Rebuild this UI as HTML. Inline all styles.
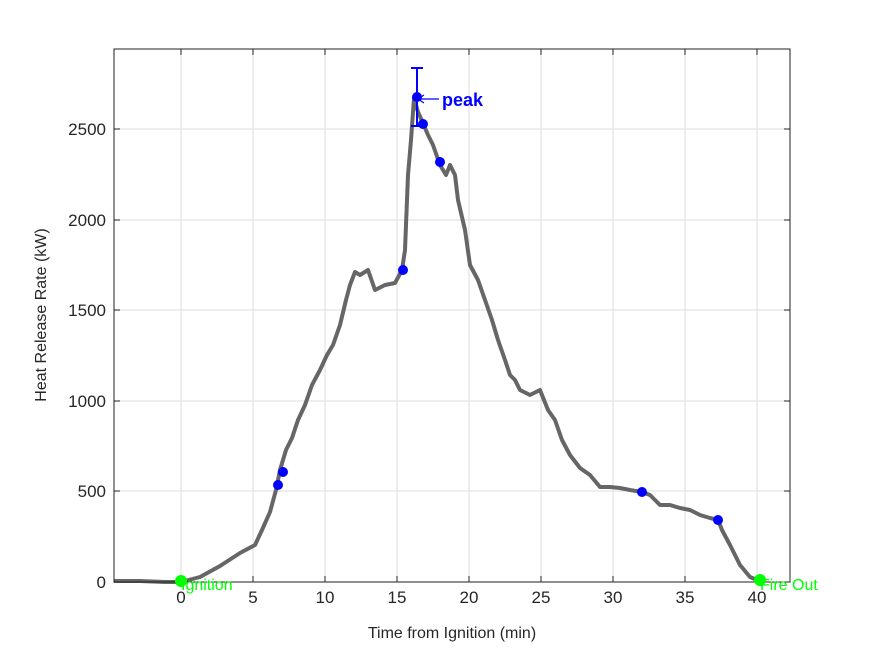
<!DOCTYPE html>
<html><head><style>body{margin:0;background:#fff}</style></head><body>
<svg width="875" height="656" xmlns="http://www.w3.org/2000/svg" font-family="Liberation Sans, sans-serif">
<rect width="875" height="656" fill="#fff"/>
<g stroke="#dedede" stroke-width="1">
<line x1="181" y1="49" x2="181" y2="582"/><line x1="253" y1="49" x2="253" y2="582"/><line x1="325" y1="49" x2="325" y2="582"/><line x1="397" y1="49" x2="397" y2="582"/><line x1="469" y1="49" x2="469" y2="582"/><line x1="541" y1="49" x2="541" y2="582"/><line x1="613" y1="49" x2="613" y2="582"/><line x1="685" y1="49" x2="685" y2="582"/><line x1="757" y1="49" x2="757" y2="582"/>
<line x1="114" y1="491" x2="790" y2="491"/><line x1="114" y1="401" x2="790" y2="401"/><line x1="114" y1="310" x2="790" y2="310"/><line x1="114" y1="220" x2="790" y2="220"/><line x1="114" y1="129" x2="790" y2="129"/>
</g>
<polyline fill="none" stroke="#666" stroke-width="4" stroke-linejoin="round" points="114,581 140,581 165,582 181,582 200,577 220,566 240,553 255,545 262,530 270,512 276,490 280,470 286,450 292,438 298,420 305,405 312,385 320,370 327,355 333,345 340,325 346,300 350,285 355,272 360,275 368,270 375,290 385,285 395,283 402,270 405,250 408,175 411,140 414,98 418,112 423,123 428,135 433,145 440,165 446,175 450,165 455,175 458,200 465,230 470,265 478,280 485,300 492,320 498,340 505,360 510,375 515,380 520,390 530,395 540,390 548,410 555,420 562,440 570,455 580,468 590,475 600,487 610,487 620,488 630,490 642,492 650,495 660,505 670,505 680,508 690,510 700,515 710,518 718,520 722,530 730,545 740,565 750,577 757,580 765,581"/>
<g fill="none" stroke="#222" stroke-width="1">
<rect x="114" y="49" width="676" height="533"/>
</g>
<g stroke="#222" stroke-width="1">
<line x1="181" y1="582" x2="181" y2="576"/><line x1="253" y1="582" x2="253" y2="576"/><line x1="325" y1="582" x2="325" y2="576"/><line x1="397" y1="582" x2="397" y2="576"/><line x1="469" y1="582" x2="469" y2="576"/><line x1="541" y1="582" x2="541" y2="576"/><line x1="613" y1="582" x2="613" y2="576"/><line x1="685" y1="582" x2="685" y2="576"/><line x1="757" y1="582" x2="757" y2="576"/>
<line x1="181" y1="49" x2="181" y2="55"/><line x1="253" y1="49" x2="253" y2="55"/><line x1="325" y1="49" x2="325" y2="55"/><line x1="397" y1="49" x2="397" y2="55"/><line x1="469" y1="49" x2="469" y2="55"/><line x1="541" y1="49" x2="541" y2="55"/><line x1="613" y1="49" x2="613" y2="55"/><line x1="685" y1="49" x2="685" y2="55"/><line x1="757" y1="49" x2="757" y2="55"/>
<line x1="114" y1="491" x2="120" y2="491"/><line x1="114" y1="401" x2="120" y2="401"/><line x1="114" y1="310" x2="120" y2="310"/><line x1="114" y1="220" x2="120" y2="220"/><line x1="114" y1="129" x2="120" y2="129"/>
<line x1="790" y1="491" x2="784" y2="491"/><line x1="790" y1="401" x2="784" y2="401"/><line x1="790" y1="310" x2="784" y2="310"/><line x1="790" y1="220" x2="784" y2="220"/><line x1="790" y1="129" x2="784" y2="129"/>
</g>
<g font-size="17" fill="#262626" text-anchor="middle">
<text x="181" y="603">0</text><text x="253" y="603">5</text><text x="325" y="603">10</text><text x="397" y="603">15</text><text x="469" y="603">20</text><text x="541" y="603">25</text><text x="613" y="603">30</text><text x="685" y="603">35</text><text x="757" y="603">40</text>
</g>
<g font-size="17" fill="#262626" text-anchor="end">
<text x="106" y="588">0</text><text x="106" y="497">500</text><text x="106" y="407">1000</text><text x="106" y="316">1500</text><text x="106" y="226">2000</text><text x="106" y="135">2500</text>
</g>
<text x="452" y="638" font-size="16" fill="#262626" text-anchor="middle">Time from Ignition (min)</text>
<text x="46" y="315" font-size="16" fill="#262626" text-anchor="middle" transform="rotate(-90 46 315)">Heat Release Rate (kW)</text>
<g stroke="#0000ff" stroke-width="2" fill="none">
<line x1="417" y1="68" x2="417" y2="126"/><line x1="411" y1="68" x2="423" y2="68"/><line x1="411" y1="126" x2="423" y2="126"/>
<line x1="418" y1="99" x2="439" y2="99" stroke-width="1.2"/><polyline points="424,95 418,99 424,103" stroke-width="1.2"/>
</g>
<g fill="#0000ff">
<circle cx="278" cy="485" r="5"/><circle cx="283" cy="472" r="5"/><circle cx="403" cy="270" r="5"/><circle cx="417" cy="97" r="5"/><circle cx="423" cy="124" r="5"/><circle cx="440" cy="162" r="5"/><circle cx="642" cy="492" r="5"/><circle cx="718" cy="520" r="5"/>
</g>
<text x="442" y="106" font-size="18" font-weight="bold" fill="#0000ff">peak</text>
<g fill="#00ff00"><circle cx="181" cy="581" r="6"/><circle cx="760" cy="580" r="6"/></g>
<text x="181" y="590" font-size="16" fill="#00ff00">Ignition</text>
<text x="760" y="590" font-size="16" fill="#00ff00">Fire Out</text>
</svg>
</body></html>
